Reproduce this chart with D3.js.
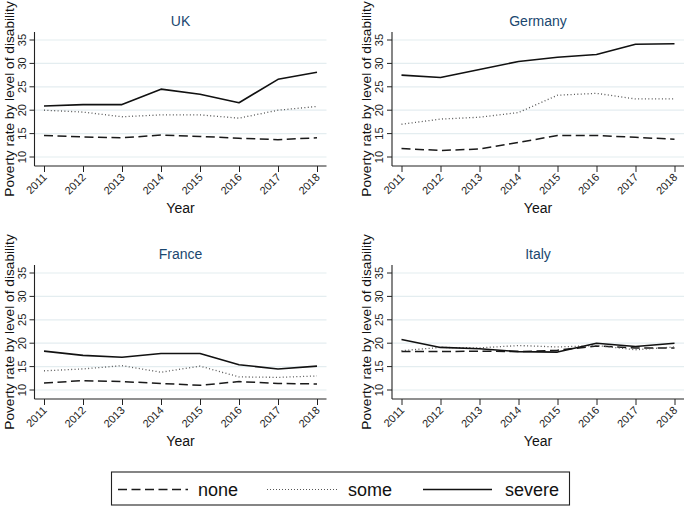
<!DOCTYPE html>
<html>
<head>
<meta charset="utf-8">
<script src="https://cdn.jsdelivr.net/npm/d3@7"></script>
<style>
html, body { margin: 0; padding: 0; background: #fff; }
svg { display: block; font-family: "Liberation Sans", Arial, sans-serif; }
</style>
</head>
<body>
<svg id="chart" width="685" height="506"></svg>
<script>
// ---- data ----
const years = [2011, 2012, 2013, 2014, 2015, 2016, 2017, 2018];
const yTicks = [10, 15, 20, 25, 30, 35];
const countries = ["UK", "Germany", "France", "Italy"];
const seriesNames = ["none", "some", "severe"];

const ukNone = [14.6, 14.3, 14.1, 14.7, 14.4, 14.0, 13.7, 14.1];
const ukSome = [20.0, 19.6, 18.6, 19.0, 19.0, 18.3, 20.0, 20.8];
const ukSevere = [20.9, 21.2, 21.2, 24.5, 23.4, 21.6, 26.6, 28.1];

const deNone = [11.8, 11.4, 11.7, 13.1, 14.6, 14.6, 14.2, 13.8];
const deSome = [17.0, 18.1, 18.5, 19.5, 23.2, 23.6, 22.4, 22.4];
const deSevere = [27.5, 27.0, 28.7, 30.4, 31.3, 31.9, 34.1, 34.2];

const frNone = [11.5, 12.0, 11.8, 11.4, 11.0, 11.8, 11.4, 11.3];
const frSome = [14.1, 14.5, 15.2, 13.8, 15.1, 12.8, 12.7, 13.0];
const frSevere = [18.3, 17.4, 17.0, 17.8, 17.8, 15.4, 14.5, 15.1];

const itNone = [18.2, 18.2, 18.3, 18.2, 18.5, 19.4, 19.0, 19.0];
const itSome = [18.4, 19.1, 19.0, 19.5, 19.2, 19.5, 18.6, 19.2];
const itSevere = [20.8, 19.1, 18.8, 18.2, 18.1, 20.0, 19.3, 20.0];

const panelData = {
  UK: [ukNone, ukSome, ukSevere],
  Germany: [deNone, deSome, deSevere],
  France: [frNone, frSome, frSevere],
  Italy: [itNone, itSome, itSevere]
};

// ---- styles ----
const lineStyle = {
  none:   { stroke: "#1a1a1a", width: 1.5, dash: "9,4.5" },
  some:   { stroke: "#555",    width: 1.3, dash: "1,2.4" },
  severe: { stroke: "#111",    width: 1.6, dash: null }
};
const titleColor = "#1a476f";
const gridColor = "#e4edf0";

const svg = d3.select("#chart");

// panel layout
const colX = [34.5, 392];
const rowY = [32, 265];
const pW = 292, pH = 134;

countries.forEach((c, i) => {
  const left = colX[i % 2];
  const top = rowY[Math.floor(i / 2)];
  const right = left + pW;
  const bottom = top + pH;

  const x = d3.scalePoint().domain(years).range([left + 9.5, right - 9.5]);
  const y = d3.scaleLinear().domain([10, 35]).range([top + 125, top + 8]);

  const g = svg.append("g");

  // gridlines
  g.selectAll("line.grid").data(yTicks).enter().append("line")
    .attr("x1", left).attr("x2", right)
    .attr("y1", d => y(d)).attr("y2", d => y(d))
    .attr("stroke", gridColor).attr("stroke-width", 1.2);

  // y axis
  const yAxis = d3.axisLeft(y).tickValues(yTicks).tickSize(5).tickSizeOuter(0);
  const ya = g.append("g").attr("transform", `translate(${left},0)`).call(yAxis);
  ya.select(".domain").remove();
  ya.append("line").attr("x1", 0).attr("x2", 0).attr("y1", top).attr("y2", bottom)
    .attr("stroke", "#222").attr("stroke-width", 1.1);
  ya.selectAll(".tick line").attr("stroke", "#222").attr("stroke-width", 1);
  ya.selectAll(".tick text")
    .attr("x", null).attr("dy", null)
    .attr("transform", d => `translate(-9,${y(d)}) rotate(-90)`)
    .attr("y", 0)
    .attr("text-anchor", "middle")
    .attr("font-size", "11px").attr("fill", "#222")
    .attr("font-family", "'Liberation Sans', Arial, sans-serif");
  ya.selectAll(".tick").attr("transform", null);
  ya.selectAll(".tick line").attr("transform", d => `translate(0,${y(d)})`);

  // x axis
  const xAxis = d3.axisBottom(x).tickSize(6).tickSizeOuter(0);
  const xa = g.append("g").attr("transform", `translate(0,${bottom})`).call(xAxis);
  xa.select(".domain").remove();
  xa.append("line").attr("x1", left).attr("x2", right).attr("y1", 0).attr("y2", 0)
    .attr("stroke", "#222").attr("stroke-width", 1.1);
  xa.selectAll(".tick line").attr("stroke", "#222").attr("stroke-width", 1);
  xa.selectAll(".tick text")
    .attr("y", null).attr("dy", null)
    .attr("transform", "translate(3,12) rotate(-45)")
    .attr("text-anchor", "end")
    .attr("font-size", "11px").attr("fill", "#222")
    .attr("font-family", "'Liberation Sans', Arial, sans-serif");

  // series lines
  const line = d3.line().x((d, k) => x(years[k])).y(d => y(d));
  panelData[c].forEach((vals, s) => {
    const st = lineStyle[seriesNames[s]];
    g.append("path").datum(vals)
      .attr("d", line)
      .attr("fill", "none")
      .attr("stroke", st.stroke)
      .attr("stroke-width", st.width)
      .attr("stroke-dasharray", st.dash)
      .attr("stroke-linejoin", "round");
  });

  // title
  g.append("text").attr("x", (left + right) / 2).attr("y", top - 6)
    .attr("text-anchor", "middle").attr("font-size", "14px")
    .attr("fill", titleColor).text(c);

  // x title
  g.append("text").attr("x", (left + right) / 2).attr("y", bottom + 46.5)
    .attr("text-anchor", "middle").attr("font-size", "14px")
    .attr("fill", "#111").text("Year");

  // y title
  g.append("text")
    .attr("transform", `translate(${left - 21},${(top + bottom) / 2}) rotate(-90)`)
    .attr("text-anchor", "middle").attr("font-size", "13.7px")
    .attr("fill", "#111").text("Poverty rate by level of disability");
});

// ---- legend ----
const leg = svg.append("g");
leg.append("rect").attr("x", 111.5).attr("y", 472).attr("width", 458).attr("height", 33)
  .attr("fill", "#fff").attr("stroke", "#222").attr("stroke-width", 1.1);
const legItems = [
  { name: "none", x1: 118, x2: 188, tx: 198 },
  { name: "some", x1: 267, x2: 338, tx: 348 },
  { name: "severe", x1: 423, x2: 492, tx: 505 }
];
legItems.forEach(it => {
  const st = lineStyle[it.name];
  leg.append("line").attr("x1", it.x1).attr("x2", it.x2).attr("y1", 489.5).attr("y2", 489.5)
    .attr("stroke", st.stroke).attr("stroke-width", it.name === "some" ? 1 : st.width)
    .attr("stroke-dasharray", it.name === "some" ? "1,2" : st.dash);
  leg.append("text").attr("x", it.tx).attr("y", 496).attr("font-size", "18px")
    .attr("fill", "#111").text(it.name);
});
</script>
</body>
</html>
